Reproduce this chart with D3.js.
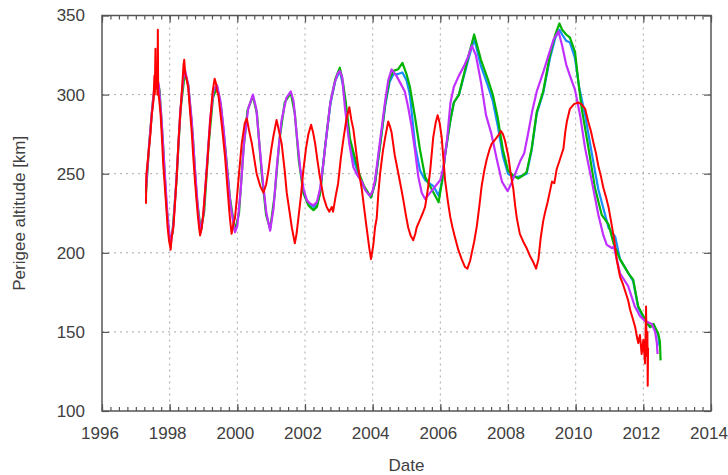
<!DOCTYPE html>
<html>
<head>
<meta charset="utf-8">
<script src="https://cdn.jsdelivr.net/npm/d3@7"></script>
<style>
  body { margin: 0; background: #fff; }
  text { font-family: "Liberation Sans", Arial, sans-serif; fill: #404040; }
</style>
</head>
<body>
<div id="chart"></div>
<script>
// tick values
var xTicks = [1996, 1998, 2000, 2002, 2004, 2006, 2008, 2010, 2012, 2014];
var yTicks = [100, 150, 200, 250, 300, 350];

// [decimal year, perigee altitude km]
var redSeries = [[1997.30,231],[1997.31,249],[1997.37,262],[1997.43,275],[1997.47,287],[1997.52,296],[1997.55,312],[1997.56,300],[1997.58,329],[1997.59,304],[1997.62,310],[1997.64,300],[1997.65,341],[1997.66,302],[1997.69,297],[1997.73,288],[1997.76,277],[1997.81,256],[1997.89,232],[1997.94,216],[1997.98,208],[1998.03,202],[1998.06,210],[1998.11,216],[1998.16,232],[1998.21,249],[1998.26,270],[1998.31,287],[1998.37,305],[1998.41,319],[1998.43,322],[1998.46,313],[1998.50,310],[1998.55,304],[1998.60,290],[1998.65,277],[1998.70,260],[1998.75,245],[1998.83,224],[1998.88,214],[1998.90,211],[1998.95,216],[1998.99,224],[1999.05,240],[1999.11,256],[1999.19,281],[1999.27,302],[1999.33,310],[1999.37,307],[1999.40,302],[1999.44,300],[1999.49,290],[1999.54,281],[1999.64,260],[1999.73,235],[1999.78,222],[1999.83,212],[1999.88,218],[1999.93,222],[1999.98,233],[2000.05,250],[2000.13,269],[2000.22,282],[2000.28,285],[2000.34,278],[2000.43,269],[2000.57,250],[2000.68,242],[2000.77,238],[2000.85,243],[2000.92,252],[2001.00,265],[2001.06,273],[2001.16,284],[2001.22,278],[2001.31,269],[2001.40,252],[2001.46,238],[2001.55,225],[2001.61,216],[2001.70,206],[2001.75,212],[2001.80,221],[2001.88,236],[2001.95,252],[2002.03,266],[2002.10,275],[2002.18,281],[2002.24,276],[2002.30,269],[2002.37,258],[2002.44,248],[2002.55,235],[2002.64,229],[2002.72,226],[2002.79,229],[2002.83,226],[2002.90,235],[2002.98,244],[2003.06,260],[2003.13,271],[2003.22,284],[2003.31,292],[2003.37,284],[2003.43,278],[2003.53,261],[2003.60,250],[2003.68,240],[2003.75,228],[2003.82,216],[2003.90,203],[2003.95,196],[2004.02,205],[2004.07,216],[2004.12,222],[2004.17,238],[2004.22,250],[2004.30,264],[2004.37,273],[2004.46,283],[2004.51,280],[2004.56,276],[2004.65,262],[2004.76,250],[2004.85,240],[2004.91,233],[2004.98,224],[2005.05,216],[2005.12,211],[2005.20,208],[2005.26,212],[2005.30,216],[2005.40,221],[2005.48,225],[2005.55,229],[2005.63,240],[2005.70,252],[2005.79,273],[2005.86,282],[2005.92,287],[2005.98,282],[2006.04,273],[2006.14,246],[2006.22,233],[2006.29,223],[2006.36,216],[2006.43,210],[2006.53,202],[2006.63,196],[2006.73,191],[2006.80,190],[2006.88,195],[2006.93,200],[2007.00,207],[2007.08,217],[2007.15,229],[2007.22,242],[2007.30,252],[2007.37,259],[2007.45,265],[2007.52,269],[2007.60,271],[2007.67,273],[2007.74,275],[2007.79,277],[2007.85,275],[2007.91,271],[2008.01,261],[2008.08,250],[2008.16,240],[2008.21,230],[2008.26,222],[2008.35,212],[2008.45,207],[2008.55,203],[2008.65,198],[2008.75,194],[2008.83,190],[2008.90,196],[2008.97,210],[2009.04,220],[2009.10,226],[2009.17,232],[2009.24,239],[2009.30,245],[2009.37,244],[2009.44,253],[2009.52,258],[2009.58,262],[2009.64,266],[2009.69,276],[2009.74,283],[2009.83,291],[2009.95,294],[2010.07,295],[2010.17,294],[2010.28,291],[2010.37,283],[2010.45,277],[2010.52,270],[2010.60,263],[2010.67,255],[2010.75,248],[2010.82,241],[2010.90,235],[2010.97,229],[2011.07,217],[2011.14,208],[2011.21,196],[2011.31,185],[2011.40,180],[2011.46,176],[2011.55,170],[2011.61,164],[2011.68,159],[2011.76,153],[2011.80,148],[2011.85,143],[2011.90,148],[2011.95,136],[2012.00,145],[2012.05,130],[2012.08,166],[2012.10,135],[2012.12,150],[2012.13,116],[2012.14,140]];

var purpleSeries = [[1997.30,240],[1997.37,262],[1997.47,288],[1997.55,305],[1997.62,312],[1997.68,306],[1997.76,284],[1997.85,252],[1997.94,222],[1998.03,205],[1998.11,218],[1998.21,250],[1998.31,288],[1998.40,310],[1998.46,315],[1998.55,306],[1998.65,284],[1998.75,252],[1998.85,224],[1998.92,213],[1999.00,225],[1999.11,258],[1999.20,285],[1999.30,303],[1999.40,306],[1999.50,296],[1999.60,277],[1999.70,252],[1999.80,230],[1999.93,213],[2000.00,217],[2000.10,240],[2000.20,270],[2000.32,291],[2000.46,300],[2000.56,291],[2000.66,267],[2000.76,244],[2000.86,225],[2000.97,214],[2001.07,228],[2001.17,255],[2001.30,283],[2001.45,298],[2001.58,302],[2001.66,296],[2001.76,274],[2001.86,253],[2001.96,240],[2002.06,233],[2002.16,231],[2002.25,230],[2002.35,232],[2002.45,241],[2002.55,258],[2002.65,277],[2002.75,295],[2002.87,307],[2002.96,313],[2003.03,315],[2003.10,311],[2003.18,292],[2003.31,269],[2003.43,254],[2003.55,249],[2003.68,245],[2003.80,239],[2003.92,236],[2004.00,239],[2004.07,246],[2004.22,271],[2004.37,296],[2004.46,309],[2004.56,316],[2004.70,312],[2004.85,306],[2004.95,302],[2005.05,292],[2005.15,280],[2005.25,265],[2005.35,248],[2005.45,238],[2005.55,234],[2005.70,238],[2005.85,242],[2006.00,246],[2006.10,255],[2006.20,272],[2006.30,295],[2006.40,305],[2006.55,312],[2006.70,318],[2006.82,324],[2006.93,331],[2007.05,325],[2007.20,308],[2007.35,287],[2007.50,276],[2007.67,259],[2007.82,245],[2007.99,239],[2008.10,244],[2008.25,252],[2008.36,258],[2008.48,263],[2008.60,276],[2008.72,290],[2008.85,302],[2009.04,314],[2009.20,325],[2009.35,335],[2009.49,340],[2009.60,331],[2009.72,319],[2009.83,312],[2009.98,303],[2010.13,287],[2010.28,266],[2010.48,245],[2010.67,224],[2010.82,211],[2010.92,205],[2011.00,204],[2011.07,203],[2011.13,204],[2011.31,187],[2011.55,179],[2011.75,166],[2011.90,160],[2012.05,157],[2012.15,156],[2012.25,155],[2012.35,150],[2012.40,143],[2012.42,136]];

var greenSeries = [[1997.30,238],[1997.40,270],[1997.50,295],[1997.60,310],[1997.70,303],[1997.80,270],[1997.90,232],[1998.00,207],[1998.08,212],[1998.20,245],[1998.32,290],[1998.45,314],[1998.55,306],[1998.68,275],[1998.80,235],[1998.92,214],[1999.02,226],[1999.15,268],[1999.28,298],[1999.40,305],[1999.52,292],[1999.65,265],[1999.78,235],[1999.93,214],[2000.05,225],[2000.18,265],[2000.30,290],[2000.46,299],[2000.58,288],[2000.72,250],[2000.85,224],[2000.97,215],[2001.10,236],[2001.25,272],[2001.40,295],[2001.58,301],[2001.70,288],[2001.82,258],[2001.95,238],[2002.10,230],[2002.25,227],[2002.35,229],[2002.45,238],[2002.60,268],[2002.75,295],[2002.90,310],[2003.03,317],[2003.12,308],[2003.20,296],[2003.33,272],[2003.45,262],[2003.60,250],[2003.75,242],[2003.95,235],[2004.07,244],[2004.22,268],[2004.37,294],[2004.50,310],[2004.62,315],[2004.75,316],[2004.88,320],[2005.00,313],[2005.10,305],[2005.25,286],[2005.40,265],[2005.55,248],[2005.75,240],[2005.95,232],[2006.05,245],[2006.14,262],[2006.29,283],[2006.40,295],[2006.55,300],[2006.70,313],[2006.85,326],[2007.00,338],[2007.10,330],[2007.20,322],[2007.40,310],[2007.55,300],[2007.70,285],[2007.85,265],[2008.00,252],[2008.15,249],[2008.30,247],[2008.45,249],[2008.55,251],[2008.70,266],[2008.85,289],[2009.04,302],[2009.24,325],[2009.40,338],[2009.52,345],[2009.60,341],[2009.72,338],[2009.83,336],[2009.98,327],[2010.08,308],[2010.18,291],[2010.38,266],[2010.57,241],[2010.77,224],[2010.97,218],[2011.12,206],[2011.31,196],[2011.56,187],[2011.70,183],[2011.85,166],[2012.05,158],[2012.20,153],[2012.30,155],[2012.44,149],[2012.49,144],[2012.51,132]];

var blueSeries = [[2001.95,238],[2002.10,231],[2002.25,229],[2002.35,230],[2002.45,239],[2002.60,268],[2002.75,294],[2002.90,309],[2003.03,315],[2003.12,306],[2003.20,293],[2003.33,268],[2003.45,258],[2003.60,249],[2003.75,241],[2003.95,235],[2004.07,244],[2004.22,268],[2004.37,293],[2004.50,308],[2004.62,313],[2004.75,313],[2004.88,314],[2005.00,309],[2005.10,300],[2005.26,267],[2005.40,252],[2005.55,246],[2005.80,242],[2005.95,236],[2006.05,245],[2006.14,262],[2006.29,283],[2006.40,295],[2006.55,300],[2006.70,312],[2006.85,324],[2007.00,335],[2007.10,327],[2007.20,318],[2007.40,306],[2007.55,296],[2007.70,280],[2007.85,261],[2008.00,250],[2008.15,248],[2008.30,248],[2008.45,249],[2008.55,250],[2008.70,265],[2008.85,288],[2009.04,301],[2009.24,323],[2009.40,336],[2009.52,341],[2009.60,338],[2009.72,334],[2009.83,333],[2009.98,323],[2010.10,305],[2010.28,287],[2010.50,260],[2010.67,240],[2010.82,228],[2010.97,216],[2011.07,213],[2011.17,210],[2011.31,196],[2011.56,187],[2011.70,182],[2011.85,165],[2012.05,157],[2012.20,153],[2012.30,155],[2012.44,148],[2012.48,141]];

var margin = {top: 15.5, right: 17, bottom: 64, left: 102},
    width = 728 - margin.left - margin.right,
    height = 475 - margin.top - margin.bottom;

var svg = d3.select("#chart").append("svg")
    .attr("width", 728)
    .attr("height", 475)
    .append("g")
    .attr("transform", "translate(" + margin.left + "," + margin.top + ")");

var x = d3.scaleLinear().domain([1996, 2014]).range([0, width]),
    y = d3.scaleLinear().domain([100, 350]).range([height, 0]);

// dotted grid
svg.append("g").selectAll("line")
    .data(xTicks.slice(1, -1))
    .enter().append("line")
    .attr("x1", function (d) { return x(d); })
    .attr("x2", function (d) { return x(d); })
    .attr("y1", 0).attr("y2", height)
    .attr("stroke", "#a8a8a8").attr("stroke-dasharray", "2,4");
svg.append("g").selectAll("line")
    .data(yTicks.slice(1, -1))
    .enter().append("line")
    .attr("y1", function (d) { return y(d); })
    .attr("y2", function (d) { return y(d); })
    .attr("x1", 0).attr("x2", width)
    .attr("stroke", "#a8a8a8").attr("stroke-dasharray", "2,4");

// minor ticks every quarter year
var minor = d3.range(1996, 2014.01, 0.25);

function styleAxis(g) {
    g.select(".domain").remove();
    g.selectAll(".tick line").attr("stroke", "#555").attr("stroke-width", 1.2);
    g.selectAll("text").attr("font-size", "17px").attr("fill", "#404040")
        .attr("font-family", "'Liberation Sans', Arial, sans-serif");
}

svg.append("g").attr("transform", "translate(0," + height + ")")
    .call(d3.axisBottom(x).tickValues(minor).tickSize(-4).tickFormat(""))
    .call(styleAxis);
svg.append("g")
    .call(d3.axisTop(x).tickValues(minor).tickSize(-4).tickFormat(""))
    .call(styleAxis);
svg.append("g").attr("transform", "translate(0," + height + ")")
    .call(d3.axisBottom(x).tickValues(xTicks).tickSize(-7).tickPadding(16).tickFormat(d3.format("d")))
    .call(styleAxis)
    .selectAll("text").attr("dx", "-2.5");
svg.append("g")
    .call(d3.axisTop(x).tickValues(xTicks).tickSize(-7).tickFormat(""))
    .call(styleAxis);
svg.append("g")
    .call(d3.axisLeft(y).tickValues(yTicks).tickSize(-7).tickPadding(17))
    .call(styleAxis);
svg.append("g").attr("transform", "translate(" + width + ",0)")
    .call(d3.axisRight(y).tickValues(yTicks).tickSize(-7).tickFormat(""))
    .call(styleAxis);

// series
var line = d3.line()
    .x(function (d) { return x(d[0]); })
    .y(function (d) { return y(d[1]); });

var series = [
    {data: blueSeries, color: "#1a8cff", w: 2.2},
    {data: greenSeries, color: "#00b400", w: 2.2},
    {data: purpleSeries, color: "#c030ff", w: 2.2},
    {data: redSeries, color: "#ff0000", w: 2}
];

svg.selectAll(".series")
    .data(series)
    .enter().append("path")
    .attr("class", "series")
    .attr("fill", "none")
    .attr("stroke", function (d) { return d.color; })
    .attr("stroke-width", function (d) { return d.w; })
    .attr("stroke-linejoin", "round")
    .attr("d", function (d) { return line(d.data); });

// frame
svg.append("rect")
    .attr("width", width).attr("height", height)
    .attr("fill", "none").attr("stroke", "#555").attr("stroke-width", 1.5);

// axis titles
svg.append("text")
    .attr("x", width / 2).attr("y", height + 60)
    .attr("text-anchor", "middle")
    .attr("font-size", "17px")
    .text("Date");

svg.append("text")
    .attr("transform", "rotate(-90)")
    .attr("x", -height / 2).attr("y", -77)
    .attr("text-anchor", "middle")
    .attr("font-size", "17px")
    .text("Perigee altitude [km]");
</script>
</body>
</html>
